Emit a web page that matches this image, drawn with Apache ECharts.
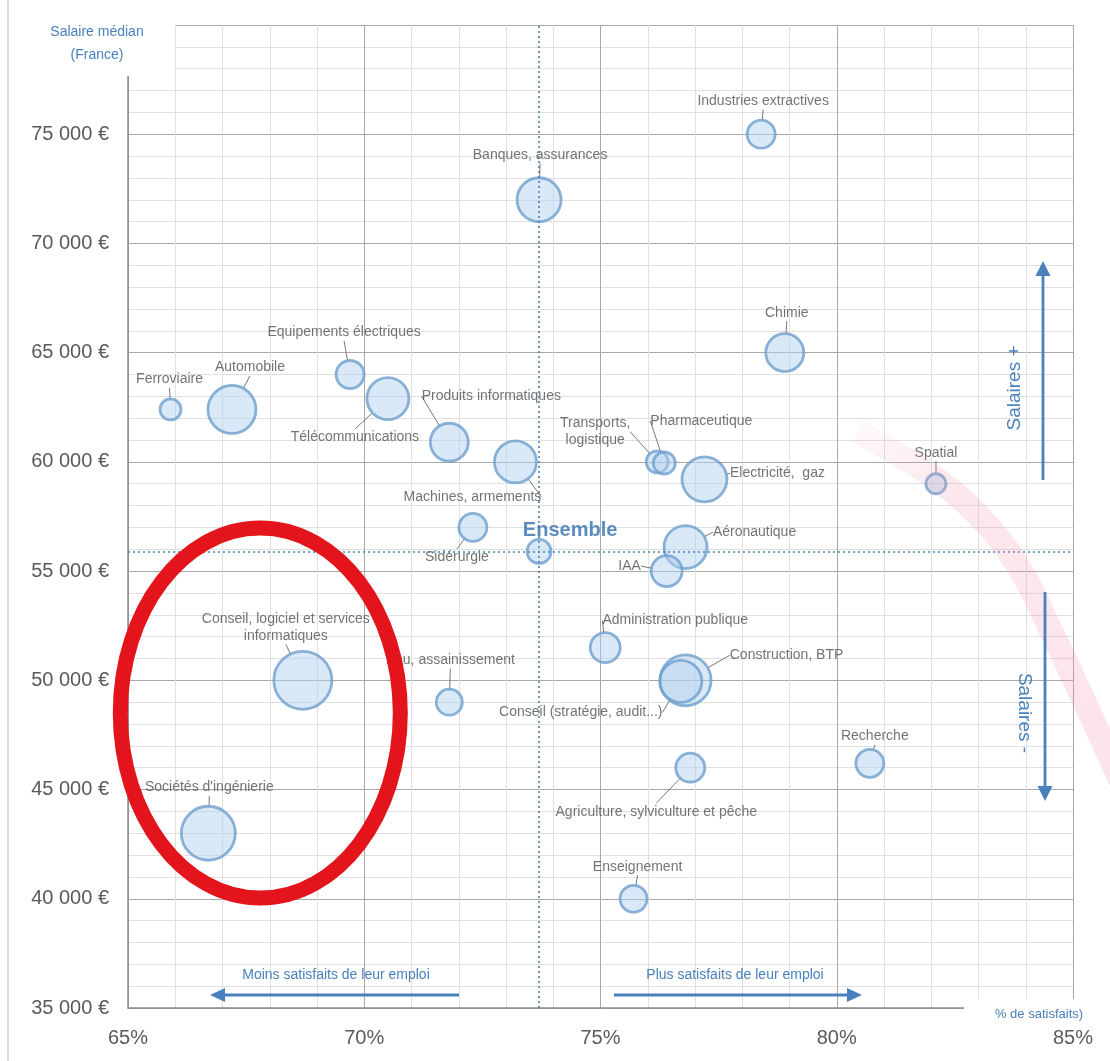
<!DOCTYPE html>
<html>
<head>
<meta charset="utf-8">
<script src="https://cdn.jsdelivr.net/npm/echarts@6/dist/echarts.min.js"></script>
<style>
html,body{margin:0;padding:0;background:#fff;}
#chart{width:1110px;height:1061px;}
</style>
</head>
<body>
<div id="chart"></div>
<script>
// ---- Data ----
const categories = [
  "Industries extractives", "Banques, assurances", "Ferroviaire", "Automobile",
  "Equipements électriques", "Télécommunications", "Produits informatiques",
  "Machines, armements", "Sidérurgie", "Ensemble", "Transports,\nlogistique",
  "Pharmaceutique", "Electricité,  gaz", "Aéronautique", "IAA",
  "Administration publique", "Construction, BTP", "Conseil (stratégie, audit...)",
  "Recherche", "Agriculture, sylviculture et pêche", "Enseignement",
  "Conseil, logiciel et services\ninformatiques", "Eau, assainissement",
  "Sociétés d'ingénierie", "Spatial", "Chimie"
];
const satisfaction = [78.4, 73.7, 65.9, 67.2, 69.7, 70.5, 71.8, 73.2, 72.3, 73.7, 76.2,
  76.35, 77.2, 76.8, 76.4, 75.1, 76.8, 76.7, 80.7, 76.9, 75.7, 68.7, 71.8, 66.7, 82.1, 78.9];
const salaires = [75000, 72000, 62400, 62400, 64000, 62900, 60900, 60000, 57000, 55900, 60000,
  59950, 59200, 56100, 55000, 51500, 50000, 49950, 46200, 46000, 40000, 50000, 49000, 43000, 59000, 65000];
const poids = [28, 44, 21, 48, 28, 42, 38, 42, 28, 24, 22,
  22, 45, 43, 31, 30, 51, 42, 28, 29, 27, 58, 26, 54, 20, 38];
const xTicks = [65, 70, 75, 80, 85];
const yTicks = [35000, 40000, 45000, 50000, 55000, 60000, 65000, 70000, 75000, 80000];
const ensembleName = "Ensemble";

// ---- Layout (label offsets from bubble centre, px) ----
const labelOffsets = {
  "Industries extractives": [2, -33], "Banques, assurances": [1, -45], "Ferroviaire": [-1, -30],
  "Automobile": [18, -42], "Equipements électriques": [-6, -42], "Télécommunications": [-33, 39],
  "Produits informatiques": [42, -46], "Machines, armements": [-43, 35], "Sidérurgie": [-16, 30],
  "Ensemble": [31, -21], "Transports,\nlogistique": [-62, -30], "Pharmaceutique": [37, -42],
  "Electricité,  gaz": [73, -6], "Aéronautique": [69, -15], "IAA": [-37, -5],
  "Administration publique": [70, -27], "Construction, BTP": [101, -25],
  "Conseil (stratégie, audit...)": [-100, 31], "Recherche": [5, -27],
  "Agriculture, sylviculture et pêche": [-34, 44], "Enseignement": [4, -32],
  "Conseil, logiciel et services\ninformatiques": [-17, -53], "Eau, assainissement": [1, -42],
  "Sociétés d'ingénierie": [1, -46], "Spatial": [0, -31], "Chimie": [2, -40]
};

const BLUE = '#4a80bb';
const FONT = "'Liberation Sans', Arial, sans-serif";

const ensIdx = categories.indexOf(ensembleName);
const seriesData = categories.map((name, i) => {
  const item = { name: name, value: [satisfaction[i], salaires[i], poids[i]] };
  if (name === ensembleName) {
    item.label = { color: '#3571ae', fontSize: 20, fontWeight: 'bold' };
    item.labelLine = { show: false };
  }
  return item;
});

const chart = echarts.init(document.getElementById('chart'));
const grid = { left: 128, right: 37, top: 25, bottom: 53 };

const option = {
  backgroundColor: '#fff',
  animation: false,
  grid: grid,
  xAxis: {
    type: 'value', min: xTicks[0], max: xTicks[xTicks.length - 1], interval: 5,
    axisLine: { show: true, lineStyle: { color: '#8c8c8c', width: 1.5 } },
    axisTick: { show: false },
    minorTick: { show: false, splitNumber: 5 },
    splitLine: { show: true, lineStyle: { color: '#a8a8a8', width: 1 } },
    minorSplitLine: { show: true, lineStyle: { color: '#e0e0e0', width: 1 } },
    axisLabel: { color: '#5a5a5a', fontSize: 20, fontFamily: FONT, margin: 20,
      formatter: v => xTicks.includes(v) ? v + '%' : '' }
  },
  yAxis: {
    type: 'value', min: yTicks[0], max: yTicks[yTicks.length - 1], interval: 5000,
    axisLine: { show: true, lineStyle: { color: '#8c8c8c', width: 1.5 } },
    axisTick: { show: false },
    minorTick: { show: false, splitNumber: 5 },
    splitLine: { show: true, lineStyle: { color: '#a8a8a8', width: 1 } },
    minorSplitLine: { show: true, lineStyle: { color: '#e0e0e0', width: 1 } },
    axisLabel: { color: '#5a5a5a', fontSize: 20, fontFamily: FONT, margin: 19,
      formatter: v => (v === yTicks[yTicks.length - 1]) ? '' : (v / 1000) + ' 000 €' }
  },
  series: [{
    type: 'scatter',
    data: seriesData,
    symbolSize: v => v[2],
    itemStyle: { color: 'rgba(178,208,238,0.6)', borderColor: '#6e9fcd', borderWidth: 2.8 },
    label: { show: true, position: 'inside', formatter: '{b}', color: '#505050', fontSize: 14,
      fontFamily: FONT, lineHeight: 17, align: 'center' },
    labelLine: { show: true, lineStyle: { color: '#777', width: 1 } },
    labelLayout: function (params) {
      const o = labelOffsets[categories[params.dataIndex]] || [0, 0];
      return { dx: o[0], dy: o[1] };
    },
    markLine: {
      silent: true, symbol: 'none', animation: false,
      label: { show: false },
      lineStyle: { type: [2, 3], color: '#4a7fb5', width: 1.6 },
      data: [{ xAxis: satisfaction[ensIdx] }, { yAxis: salaires[ensIdx] }]
    },
    z: 3
  }]
};
chart.setOption(option);

// ---- Decorations (annotations) ----
function arrowV(x, y1, y2) { // tip at y2
  const dir = y2 < y1 ? -1 : 1;
  const hb = y2 - dir * 15;
  return [
    { type: 'line', shape: { x1: x, y1: y1, x2: x, y2: hb }, style: { stroke: BLUE, lineWidth: 2.8 }, z: 10 },
    { type: 'polygon', shape: { points: [[x, y2], [x - 7.5, hb], [x + 7.5, hb]] }, style: { fill: BLUE }, z: 10 }
  ];
}
function arrowH(y, x1, x2) {
  const dir = x2 < x1 ? -1 : 1;
  const hb = x2 - dir * 15;
  return [
    { type: 'line', shape: { x1: x1, y1: y, x2: hb, y2: y }, style: { stroke: BLUE, lineWidth: 2.8 }, z: 10 },
    { type: 'polygon', shape: { points: [[x2, y], [hb, y - 7], [hb, y + 7]] }, style: { fill: BLUE }, z: 10 }
  ];
}

const graphics = [
  // left frame line
  { type: 'line', shape: { x1: 8, y1: 0, x2: 8, y2: 1061 }, style: { stroke: '#d0d0d0', lineWidth: 1.5 }, z: 1 },
  // faint pink band
  { type: 'polyline', shape: { points: [[858, 432], [935, 478], [990, 528], [1025, 578], [1052, 633], [1080, 692], [1125, 790]], smooth: 0.4 },
    style: { stroke: { type: 'linear', x: 0, y: 0, x2: 1, y2: 1, colorStops: [
      { offset: 0, color: 'rgba(238,150,175,0.04)' }, { offset: 0.25, color: 'rgba(238,150,175,0.22)' },
      { offset: 1, color: 'rgba(238,150,175,0.26)' }] }, lineWidth: 24, fill: 'none', lineCap: 'butt' }, z: 8 },
  // title box
  { type: 'rect', shape: { x: 10, y: 0, width: 165, height: 76 }, style: { fill: '#fff' }, z: 9 },
  { type: 'text', x: 97, y: 44, style: { text: 'Salaire médian\n(France)', fill: BLUE, font: "14px " + FONT,
    textAlign: 'center', textVerticalAlign: 'middle', lineHeight: 23 }, z: 11 },
  // x-axis name box
  { type: 'rect', shape: { x: 964, y: 999, width: 146, height: 31 }, style: { fill: '#fff' }, z: 9 },
  { type: 'text', x: 1039, y: 1014, style: { text: '% de satisfaits)', fill: BLUE, font: "13px " + FONT,
    textAlign: 'center', textVerticalAlign: 'middle' }, z: 11 },
  // Salaires + / -
  { type: 'text', x: 1015, y: 388, rotation: Math.PI / 2, style: { text: 'Salaires +', fill: BLUE, font: "19px " + FONT,
    textAlign: 'center', textVerticalAlign: 'middle' }, z: 11 },
  { type: 'text', x: 1024, y: 713, rotation: -Math.PI / 2, style: { text: 'Salaires -', fill: BLUE, font: "19px " + FONT,
    textAlign: 'center', textVerticalAlign: 'middle' }, z: 11 },
  // bottom captions
  { type: 'text', x: 336, y: 975, style: { text: 'Moins satisfaits de leur emploi', fill: BLUE, font: "14px " + FONT,
    textAlign: 'center', textVerticalAlign: 'middle' }, z: 11 },
  { type: 'text', x: 735, y: 975, style: { text: 'Plus satisfaits de leur emploi', fill: BLUE, font: "14px " + FONT,
    textAlign: 'center', textVerticalAlign: 'middle' }, z: 11 }
].concat(arrowV(1043, 480, 261), arrowV(1045, 592, 801), arrowH(995, 459, 210), arrowH(995, 614, 862));

// red hand-drawn ellipse, centred on a data-space location
const c = chart.convertToPixel({ gridIndex: 0 }, [67.8, 48500]);
graphics.push({ type: 'ellipse', shape: { cx: c[0], cy: c[1], rx: 140, ry: 185 },
  style: { fill: 'none', stroke: '#e3141b', lineWidth: 15 }, z: 12 });

chart.setOption({ graphic: { elements: graphics } });
</script>
</body>
</html>
